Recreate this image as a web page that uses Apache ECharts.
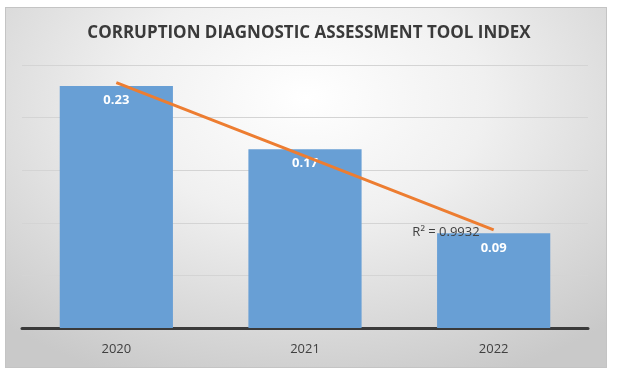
<!DOCTYPE html>
<html>
<head>
<meta charset="utf-8">
<script src="https://cdn.jsdelivr.net/npm/echarts@6/dist/echarts.min.js"></script>
<style>
  html, body { margin: 0; padding: 0; background: #fff; }
  #bg {
    position: absolute; left: 5px; top: 7px; width: 600px; height: 359px;
    border: 1px solid #c4c4c4;
    background: radial-gradient(ellipse 75% 85% at 50% 25%, #ffffff 0%, #f0f0f0 40%, #d6d6d6 80%, #c9c9c9 100%);
  }
  #myChart { position: absolute; left: 0; top: 0; width: 618px; height: 377px; }
</style>
</head>
<body>
<div id="bg"></div>
<div id="myChart"></div>
<script>
// chart data
var years = ['2020', '2021', '2022']
var indexValues = [0.23, 0.17, 0.09]
// linear trendline values
var trendValues = [0.2333, 0.1633, 0.0933]
var rSquared = 'R² = 0.9932'

var chart = echarts.init(document.getElementById('myChart'), null, { renderer: 'canvas' })

chart.setOption({
  animation: false,
  backgroundColor: 'transparent',
  title: {
    text: 'CORRUPTION DIAGNOSTIC ASSESSMENT TOOL INDEX',
    left: 'center',
    top: 20,
    textStyle: {
      fontFamily: 'Open Sans',
      fontSize: 17,
      fontWeight: 'bold',
      color: '#3a3a3a'
    }
  },
  grid: {
    left: 22,
    right: 30,
    top: 65,
    bottom: 49
  },
  xAxis: {
    type: 'category',
    data: years,
    axisTick: { show: false },
    axisLine: {
      lineStyle: { color: '#3a3a3a', width: 3 }
    },
    axisLabel: {
      margin: 15,
      fontFamily: 'Open Sans',
      fontSize: 13,
      color: '#404040'
    }
  },
  yAxis: {
    type: 'value',
    min: 0,
    max: 0.25,
    interval: 0.05,
    axisLabel: { show: false },
    axisLine: { show: false },
    axisTick: { show: false },
    splitLine: {
      lineStyle: { color: '#d4d4d4', width: 1 }
    }
  },
  series: [{
    name: 'Index',
    type: 'bar',
    data: indexValues,
    barCategoryGap: '40%',
    itemStyle: { color: '#689fd5' },
    label: {
      show: true,
      position: 'insideTop',
      distance: 8,
      fontFamily: 'Open Sans',
      fontSize: 13,
      fontWeight: 'bold',
      color: '#ffffff'
    }
  },
  {
    name: 'Trend',
    type: 'line',
    data: trendValues.map(function (v, i) {
      if (i === trendValues.length - 1) {
        return {
          value: v,
          label: {
            show: true,
            formatter: rSquared,
            position: 'left',
            distance: 14,
            offset: [0, 2],
            fontFamily: 'Open Sans',
            fontSize: 13,
            color: '#404040'
          }
        }
      }
      return v
    }),
    symbol: 'circle',
    symbolSize: 0,
    showSymbol: true,
    z: 5,
    lineStyle: { color: '#ed7d31', width: 3 }
  }]
})
</script>
</body>
</html>
